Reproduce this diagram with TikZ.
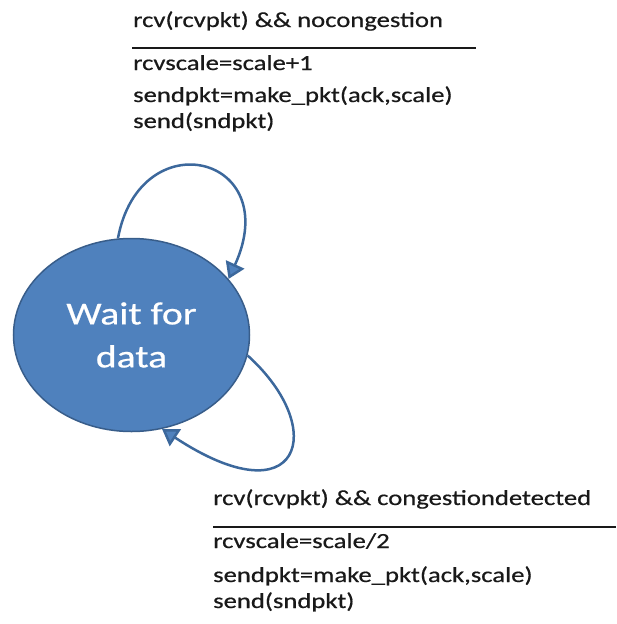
\documentclass[tikz,border=0pt]{standalone}
\usepackage{fontspec}
\setmainfont{Carlito}[FakeStretch=1.24,FakeBold=0.6]
\usetikzlibrary{arrows.meta,shapes.geometric}

\definecolor{statefill}{RGB}{79,129,189}
\definecolor{stateborder}{RGB}{56,93,138}
\definecolor{loopblue}{RGB}{60,104,156}

\begin{document}
\begin{tikzpicture}[x=1pt,y=-1pt]
	% Styles for the guards and the self loops
	\tikzset{guard text/.style={anchor=base west, inner sep=0pt, font=\fontsize{21.5}{26}\selectfont, text=black!90}}
	\tikzset{self loop/.style={line width=2.5pt, color=loopblue, -{Triangle[length=16pt,width=20pt,fill=statefill]}}}
	\useasboundingbox (0,0) rectangle (616,624);

	% The state
	\node[ellipse, draw=stateborder, line width=1.5pt, fill=statefill, minimum width=236pt, minimum height=193pt, inner sep=0pt, text=white, align=center, font=\fontsize{32}{43}\selectfont] (wait) at (131.5,335) {Wait for\\data};

	% Loop with no congestion
	\node[guard text] (noCongTrig) at (133,27) {rcv(rcvpkt) \&\& nocongestion};
	\coordinate (noCongL) at (132,48);
	\coordinate (noCongR) at (476,48);
	\draw[line width=2pt, black!90] (noCongL) -- (noCongR);
	\node[guard text] (noCongAct) at (133,70) {rcvscale=scale+1};
	\node[guard text] (noCongSend) at (133,102) {sendpkt=make\_pkt(ack,scale)};
	\node[guard text] (noCongOut) at (133,128) {send(sndpkt)};

	% Loop with congestion detected
	\node[guard text] (congTrig) at (213,505) {rcv(rcvpkt) \&\& congestiondetected};
	\coordinate (congL) at (213,527);
	\coordinate (congR) at (616,527);
	\draw[line width=2pt, black!90] (congL) -- (congR);
	\node[guard text] (congAct) at (213,548) {rcvscale=scale/2};
	\node[guard text] (congSend) at (213,582) {sendpkt=make\_pkt(ack,scale)};
	\node[guard text] (congOut) at (213,608) {send(sndpkt)};

	\draw[self loop] (wait.98) .. controls (140,120) and (285,155) .. (wait.30);
	\draw[self loop] (wait.-10) .. controls (330,430) and (300,520) .. (wait.-72);
\end{tikzpicture}
\end{document}
